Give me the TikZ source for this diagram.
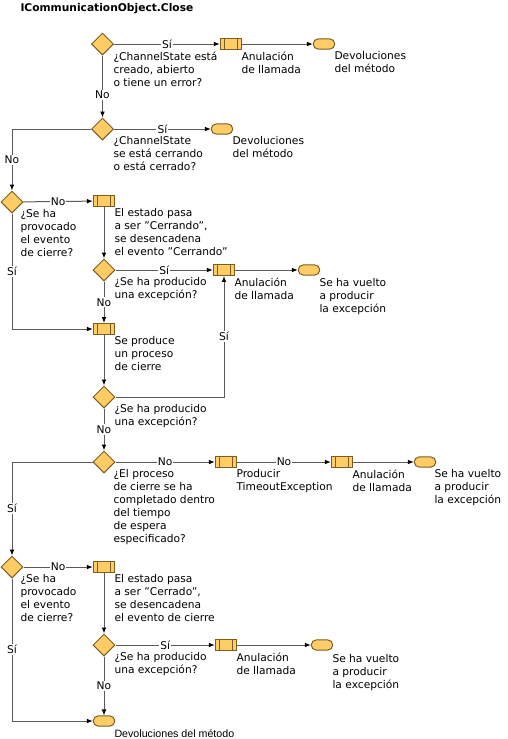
\documentclass[tikz,border=0pt]{standalone}
\usepackage{fontspec}
\setmainfont{DejaVu Sans}
\newfontfamily\arialfamily{Liberation Sans}
\usetikzlibrary{shapes.geometric, arrows.meta, positioning}
\definecolor{boxclr}{HTML}{FFCC66}
\definecolor{edgeclr}{HTML}{7A5E22}
\definecolor{lineclr}{HTML}{5A5A5A}
\newcommand{\flowfont}{\fontsize{8}{9.75}\selectfont}

\begin{document}
\begin{tikzpicture}[x=0.75pt, y=-0.75pt,
          > = {Latex[length=4.5pt,width=3.6pt,color=black]},
every path/.style = {line width=0.75pt},
 decision/.style = {diamond, draw=edgeclr, fill=boxclr, inner sep=0pt,
                    minimum width=16.5pt, minimum height=16.5pt},
  callbox/.style = {rectangle, draw=edgeclr, fill=boxclr, inner sep=0pt,
                    minimum width=16pt, minimum height=8.2pt,
                    path picture={\draw[edgeclr]
                      ([xshift=3pt]path picture bounding box.north west) --
                      ([xshift=3pt]path picture bounding box.south west)
                      ([xshift=-3pt]path picture bounding box.north east) --
                      ([xshift=-3pt]path picture bounding box.south east);}},
   endbox/.style = {rectangle, rounded corners=3.6pt, draw=edgeclr, fill=boxclr,
                    inner sep=0pt, minimum width=16pt, minimum height=7.6pt},
      lbl/.style = {anchor=north west, align=left, inner sep=0pt, font=\flowfont},
       yn/.style = {fill=white, inner sep=0.8pt, font=\flowfont},
     flow/.style = {draw=lineclr, ->}
                    ]
\useasboundingbox (0,0) rectangle (507,739);
\node[anchor=west, inner sep=0pt, font=\fontsize{8}{9.75}\bfseries] (title) at (20,9) {ICommunicationObject.Close};
% first checks
\node[decision] (d1) at (102.5,44) {};
\node[callbox]  (c1) at (231,44) {};
\node[endbox]   (e1) at (324,44) {};
\node[decision] (d2) at (102.5,129) {};
\node[endbox]   (e2) at (222,129) {};
\node[lbl] (d1t) at (113,51) {¿ChannelState está\\creado, abierto\\o tiene un error?};
\node[lbl] (c1t) at (241,51) {Anulación\\de llamada};
\node[lbl] (e1t) at (334,51) {Devoluciones\\del método};
\node[lbl] (d2t) at (113,136) {¿ChannelState\\se está cerrando\\o está cerrado?};
\node[lbl] (e2t) at (232,136) {Devoluciones\\del método};
% closing event
\node[decision] (d3) at (12,202) {};
\node[callbox]  (c2) at (104,201) {};
\node[decision] (d4) at (104,270) {};
\node[callbox]  (c3) at (224,270) {};
\node[endbox]   (e3) at (309,270) {};
\node[callbox]  (p1) at (104,329) {};
\node[decision] (d5) at (104,397) {};
\node[lbl] (d3t) at (20,209) {¿Se ha\\provocado\\el evento\\de cierre?};
\node[lbl] (c2t) at (114,208) {El estado pasa\\a ser "Cerrando",\\se desencadena\\el evento "Cerrando"};
\node[lbl] (d4t) at (114,277) {¿Se ha producido\\una excepción?};
\node[lbl] (c3t) at (234,277) {Anulación\\de llamada};
\node[lbl] (e3t) at (319,278) {Se ha vuelto\\a producir\\la excepción};
\node[lbl] (p1t) at (114,336) {Se produce\\un proceso\\de cierre};
\node[lbl] (d5t) at (114,404) {¿Se ha producido\\una excepción?};
% timeout
\node[decision] (d6) at (104,462) {};
\node[callbox]  (c4) at (226,462) {};
\node[callbox]  (c5) at (342,462) {};
\node[endbox]   (e4) at (425,462) {};
\node[lbl] (d6t) at (113,469) {¿El proceso\\de cierre se ha\\completado dentro\\del tiempo\\de espera\\especificado?};
\node[lbl] (c4t) at (236,469) {Producir\\TimeoutException};
\node[lbl] (c5t) at (352,469) {Anulación\\de llamada};
\node[lbl] (e4t) at (434,469) {Se ha vuelto\\a producir\\la excepción};
% closed event
\node[decision] (d7) at (12,567) {};
\node[callbox]  (c6) at (104,567) {};
\node[decision] (d8) at (104,645) {};
\node[callbox]  (c7) at (226,645) {};
\node[endbox]   (e5) at (322,645) {};
\node[endbox]   (e6) at (104,721) {};
\node[lbl] (d7t) at (20,574) {¿Se ha\\provocado\\el evento\\de cierre?};
\node[lbl] (c6t) at (114,574) {El estado pasa\\a ser "Cerrado",\\se desencadena\\el evento de cierre};
\node[lbl] (d8t) at (114,652) {¿Se ha producido\\una excepción?};
\node[lbl] (c7t) at (236,652) {Anulación\\de llamada};
\node[lbl] (e5t) at (332,654) {Se ha vuelto\\a producir\\la excepción};
\node[lbl, font=\arialfamily\flowfont] (e6t) at (114,729) {Devoluciones del método};
% connectors
\draw[flow] (d1) -- node[yn] {Sí} (c1);
\draw[flow] (c1) -- (e1);
\draw[flow] (d1) -- node[yn, pos=0.63] {No} (d2);
\draw[flow] (d2) -- node[yn] {Sí} (e2);
\draw[flow] (d2.west) -| node[yn, pos=0.75] {No} (d3.north);
\draw[flow] (d3) -- node[yn] {No} (c2);
\draw[flow] (c2) -- (d4);
\draw[flow] (d4) -- node[yn] {Sí} (c3);
\draw[flow] (c3) -- (e3);
\draw[flow] (d4) -- node[yn] {No} (p1);
\draw[flow] (d3.south) |- node[yn, pos=0.25] {Sí} (p1.west);
\draw[flow] (p1) -- (d5);
\draw[flow] (d5.east) -| node[yn, pos=0.75] {Sí} (c3.south);
\draw[flow] (d5) -- node[yn] {No} (d6);
\draw[flow] (d6.west) -| node[yn, pos=0.75] {Sí} (d7.north);
\draw[flow] (d6) -- node[yn] {No} (c4);
\draw[flow] (c4) -- node[yn] {No} (c5);
\draw[flow] (c5) -- (e4);
\draw[flow] (d7) -- node[yn] {No} (c6);
\draw[flow] (c6) -- (d8);
\draw[flow] (d8) -- node[yn] {Sí} (c7);
\draw[flow] (c7) -- (e5);
\draw[flow] (d8) -- node[yn] {No} (e6);
\draw[flow] (d7.south) |- node[yn, pos=0.25] {Sí} (e6.west);
\end{tikzpicture}
\end{document}
